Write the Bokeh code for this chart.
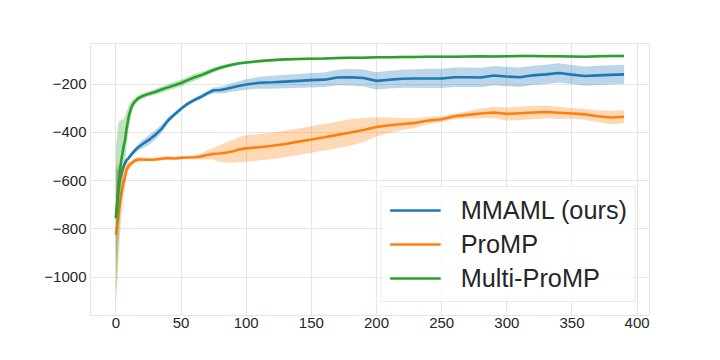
from bokeh.plotting import figure
from bokeh.models import Range1d, FixedTicker, ColumnDataSource
from bokeh.embed import file_html
from bokeh.resources import INLINE

# ---- data ----
steps = [0, 1, 2, 3, 4, 5, 6, 7, 8, 10, 12, 14, 17, 20, 25, 30, 35, 40, 45, 50,
         55, 60, 65, 70, 75, 80, 85, 90, 95, 100, 110, 120, 130, 140, 150, 160,
         170, 180, 190, 200, 210, 220, 230, 240, 250, 260, 270, 280, 290, 300,
         310, 320, 330, 340, 350, 360, 370, 380, 390]

mmaml_mean = [-750, -700, -640, -597, -575, -556, -540, -528, -516, -505, -490, -478,
              -462, -450, -432, -411, -385, -350, -325, -302, -281, -266, -253, -238,
              -225, -224, -219, -212, -206, -201, -194, -192, -189, -186, -183, -181,
              -172, -171, -174, -186, -181, -177, -176, -176, -176, -171, -171, -172,
              -164, -168, -171, -163, -159, -153, -160, -166, -163, -161, -159]
mmaml_std = [200, 150, 90, 50, 30, 20, 15, 12, 10, 10, 10, 12, 14, 17, 20, 20, 17, 12,
             10, 9, 9, 9, 9, 10, 12, 14, 16, 18, 20, 22, 25, 27, 28, 28, 30, 30, 32, 34,
             35, 36, 37, 37, 38, 40, 40, 40, 40, 40, 40, 40, 40, 40, 40, 40, 40, 40, 40,
             40, 40]

promp_mean = [-825, -780, -735, -694, -660, -630, -607, -584, -556, -536, -528, -518,
              -512, -512, -513, -512, -509, -506, -508, -505, -504, -503, -500, -493,
              -488, -487, -483, -478, -470, -466, -461, -455, -448, -438, -429, -420,
              -410, -400, -390, -377, -370, -365, -360, -350, -345, -333, -327, -321,
              -317, -323, -320, -317, -315, -318, -321, -325, -333, -338, -335]
promp_std = [280, 250, 200, 150, 110, 80, 55, 40, 28, 18, 12, 10, 9, 8, 7, 7, 7, 7, 7,
             7, 7, 8, 12, 18, 25, 35, 42, 48, 52, 55, 55, 55, 55, 55, 55, 55, 55, 55, 50,
             40, 32, 25, 20, 15, 12, 12, 15, 20, 24, 27, 28, 28, 27, 25, 22, 22, 25, 28,
             27]

multi_mean = [-756, -690, -611, -560, -520, -487, -455, -432, -390, -330, -294, -275,
              -259, -250, -240, -232, -222, -213, -204, -195, -183, -172, -163, -152,
              -141, -132, -124, -118, -113, -110, -104, -100, -97, -95, -94, -93, -91,
              -90, -90, -88, -88, -87, -87, -86, -86, -86, -85, -84, -85, -84, -83, -83,
              -84, -84, -85, -86, -84, -83, -83]
multi_std = [300, 280, 250, 210, 170, 140, 115, 95, 75, 45, 25, 15, 12, 11, 11, 12, 13,
             13, 14, 14, 14, 14, 13, 12, 10, 9, 8, 7, 6, 6, 5, 5, 5, 5, 5, 5, 5, 5, 5, 5,
             5, 5, 5, 5, 5, 5, 5, 5, 5, 5, 5, 5, 5, 5, 5, 5, 5, 5, 5]

series = [
    ("MMAML (ours)", mmaml_mean, mmaml_std, "#1f77b4"),
    ("ProMP", promp_mean, promp_std, "#ff7f0e"),
    ("Multi-ProMP", multi_mean, multi_std, "#2ca02c"),
]

x_ticks = [0, 50, 100, 150, 200, 250, 300, 350, 400]
y_ticks = [-1000, -800, -600, -400, -200]

FONT = "Liberation Sans"
GRID = "#e6e6e6"
TXT = "#262626"

p = figure(width=712, height=352, output_backend="svg", toolbar_location=None,
           x_range=Range1d(-19.5, 409.5), y_range=Range1d(-1159, -31),
           min_border_left=90, min_border_right=63, min_border_top=43,
           min_border_bottom=37)

p.background_fill_color = "white"
p.outline_line_color = GRID
p.outline_line_width = 1.2

for name, mean, std, color in series:
    lo = [m - s for m, s in zip(mean, std)]
    hi = [m + s for m, s in zip(mean, std)]
    src = ColumnDataSource(dict(x=steps, y=mean, lo=lo, hi=hi))
    p.varea(x="x", y1="lo", y2="hi", source=src, fill_color=color, fill_alpha=0.3)
    p.line(x="x", y="y", source=src, line_color=color, line_width=2.6,
           legend_label=name)

for ax in (p.xaxis[0], p.yaxis[0]):
    ax.axis_line_color = None
    ax.major_tick_line_color = None
    ax.minor_tick_line_color = None
    ax.major_tick_out = 0
    ax.major_tick_in = 0
    ax.minor_tick_out = 0
    ax.minor_tick_in = 0
    ax.major_label_text_font = FONT
    ax.major_label_text_font_size = "15px"
    ax.major_label_text_color = TXT

p.xaxis.ticker = FixedTicker(ticks=x_ticks)
p.yaxis.ticker = FixedTicker(ticks=y_ticks)
p.xaxis.major_label_standoff = 2
p.yaxis.major_label_standoff = 4
p.yaxis.major_label_overrides = {t: "\u2212" + str(abs(t)) for t in y_ticks}

p.xgrid.grid_line_color = GRID
p.ygrid.grid_line_color = GRID
p.xgrid.grid_line_width = 1.2
p.ygrid.grid_line_width = 1.2

lg = p.legend[0]
lg.location = "bottom_right"
lg.margin = 13
lg.padding = 8
lg.spacing = 4
lg.glyph_width = 51
lg.glyph_height = 30
lg.label_height = 30
lg.label_standoff = 20
lg.label_text_font = FONT
lg.label_text_font_size = "25.3px"
lg.label_text_color = TXT
lg.border_line_color = "#d5d5d5"
lg.border_line_width = 1
lg.background_fill_color = "white"
lg.background_fill_alpha = 0.8

open("out.html", "w").write(file_html(p, INLINE))
